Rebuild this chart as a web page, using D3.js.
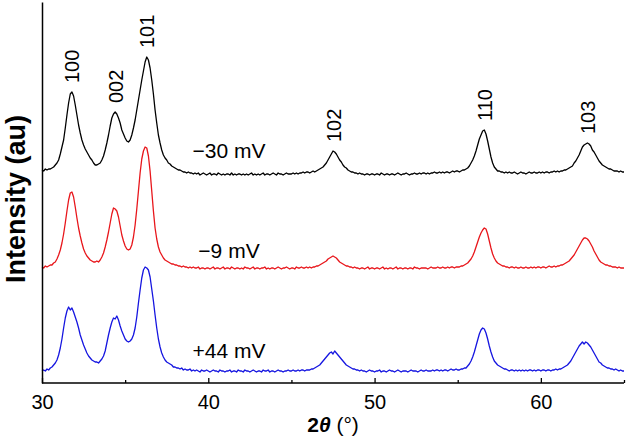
<!DOCTYPE html>
<html><head><meta charset="utf-8">
<script src="https://cdn.jsdelivr.net/npm/d3@7"></script>
<style>
html,body{margin:0;padding:0;background:#fff;}
svg{display:block;font-family:Arial,"Liberation Sans",Helvetica,sans-serif;}
</style></head>
<body>
<svg id="chart" width="626" height="441"></svg>
<script>
// 2θ grid: 30.0 to 65.0 in steps of 0.1°
const twoTheta = d3.range(0, 351).map(i => +(30 + i * 0.1).toFixed(1));

const seriesNames = ["−30 mV", "−9 mV", "+44 mV"];
const seriesColors = ["#000000", "#e8161b", "#1515e0"];
const seriesOffsets = [205, 112, 10];

const black = [
8,7,9,8,9,9,10,11,13,15,
18,24,31,38,50,63,75,84,86,82,
73,63,53,45,38,33,29,26,23,20,
18,15,13,13,14,15,18,22,28,35,
43,52,60,64,66,64,60,55,48,44,
40,37,36,38,43,50,58,68,78,88,
98,107,116,121,118,110,98,84,68,55,
43,35,28,23,20,18,15,14,12,11,
10,9,8,8,7,6,6,5,6,5,
5,4,5,4,5,3,4,5,4,3,
4,5,3,4,4,3,5,4,3,4,
3,4,4,3,5,3,4,3,4,4,
3,4,3,4,3,4,5,3,4,3,
4,3,4,5,3,4,4,3,4,5,
4,3,5,4,4,3,4,5,4,4,
4,5,4,5,4,5,5,6,5,6,
6,5,6,7,6,7,8,9,10,11,
13,15,18,21,24,27,26,24,21,18,
16,13,11,10,8,7,6,6,5,5,
4,5,4,4,3,4,4,3,4,4,
3,4,4,3,5,4,3,4,4,3,
4,4,3,4,5,4,3,4,4,5,
4,3,4,4,5,4,4,5,4,5,
5,4,5,4,5,5,6,5,5,6,
5,6,5,6,6,5,6,7,6,7,
7,6,7,8,8,9,10,12,15,18,
22,27,33,39,43,47,48,44,37,29,
21,15,11,9,7,7,6,6,5,6,
5,6,5,5,6,5,4,5,6,5,
5,4,5,6,5,5,6,5,5,6,
5,6,5,6,6,5,6,6,7,6,
7,6,7,7,8,8,9,10,11,12,
15,17,20,23,27,31,33,34,35,34,
32,28,26,23,20,17,15,13,12,11,
10,9,9,8,7,7,7,6,7,6,
6];

const red = [
4,3,5,4,5,6,6,8,9,12,
16,21,28,37,48,60,71,78,79,74,
64,53,43,35,28,22,18,15,13,11,
10,9,9,10,9,11,14,18,24,31,
39,48,57,63,62,60,54,45,36,30,
25,22,21,22,26,34,46,62,80,98,
112,120,124,123,115,100,80,60,43,32,
24,19,16,13,11,10,9,8,7,7,
6,6,5,5,4,5,4,4,3,4,
3,4,3,3,4,2,3,3,2,3,
3,2,3,4,2,3,3,2,3,4,
2,3,3,2,4,3,2,3,3,2,
3,2,4,3,3,2,3,4,2,3,
3,2,3,3,4,2,3,2,3,3,
2,3,4,3,2,3,3,4,3,2,
3,3,2,4,3,3,4,3,3,4,
3,4,3,4,4,5,5,6,7,8,
9,10,12,13,14,15,14,13,11,9,
8,7,6,5,5,4,4,3,4,3,
3,2,3,3,2,3,4,2,3,3,
2,3,3,2,3,4,2,3,2,3,
3,2,3,4,2,3,3,2,3,3,
2,3,3,2,4,3,3,2,3,3,
3,3,2,3,4,3,3,3,4,3,
3,4,3,3,4,3,4,4,3,4,
4,4,5,5,6,7,8,10,12,15,
19,24,29,34,38,41,43,42,37,30,
23,17,13,10,8,7,6,5,5,4,
4,3,4,4,3,4,3,3,4,3,
3,4,3,3,4,3,4,3,4,4,
3,4,4,3,4,5,4,4,5,4,
5,5,6,6,7,8,9,10,12,14,
16,19,22,25,28,31,33,33,32,30,
27,24,20,17,14,11,9,8,7,6,
6,5,5,4,4,4,3,4,3,3,
3];

const blue = [
2,3,2,4,3,5,6,8,10,13,
18,25,34,45,55,62,66,63,65,61,
56,51,45,38,33,28,24,20,17,15,
13,12,11,11,10,12,14,17,22,30,
38,45,51,55,54,57,53,47,42,38,
34,32,31,32,34,38,45,56,70,83,
95,103,106,105,103,96,84,72,58,45,
34,26,20,16,13,11,10,9,8,6,
6,5,5,4,5,3,4,3,3,4,
2,3,2,3,2,1,3,2,2,3,
2,1,2,3,2,2,1,3,2,2,
1,2,2,3,1,2,2,1,3,2,
2,1,3,2,2,1,2,3,2,1,
2,2,1,3,2,2,3,1,2,2,
1,2,3,2,2,1,2,2,3,2,
2,3,2,2,3,2,3,3,2,3,
3,3,4,4,5,6,7,8,10,12,
14,16,18,20,21,19,22,20,18,16,
14,12,10,8,7,6,5,4,4,3,
3,2,3,2,2,1,2,3,2,2,
1,2,2,3,1,2,2,1,2,3,
2,2,1,2,3,2,1,2,2,2,
1,2,3,2,2,2,1,2,3,2,
2,3,2,2,2,3,2,3,3,2,
3,2,3,3,2,3,4,3,3,4,
3,3,4,4,5,5,7,9,12,16,
21,27,33,39,43,45,44,40,34,27,
21,16,12,10,8,7,6,5,4,4,
3,2,3,3,2,3,2,3,2,3,
2,3,2,3,3,2,3,2,3,3,
2,3,3,2,3,3,2,3,3,4,
3,4,4,5,6,7,8,10,12,15,
18,21,24,27,29,31,29,31,30,28,
26,23,20,17,14,11,10,8,7,6,
5,5,4,4,3,4,3,2,3,2,
2];

const peakLabels = ["100", "002", "101", "102", "110", "103"];
const peakPositions = [31.75, 34.4, 36.3, 47.5, 56.6, 62.8];

const xTicks = [30, 40, 50, 60];
const xMinorTicks = [35, 45, 55, 65];

// ---- drawing ----
const svg = d3.select("#chart");
const M = { left: 42, right: 624, top: 2, bottom: 383 };
const x = d3.scaleLinear().domain([30, 65]).range([M.left, M.right]);
const y = d3.scaleLinear().domain([0, 381]).range([M.bottom, M.top]);

const seriesValues = [black, red, blue];
const line = d3.line().x(d => x(d[0])).y(d => y(d[1]));

seriesValues.forEach((vals, s) => {
  const pts = twoTheta.map((t, i) => [t, vals[i] + seriesOffsets[s]]);
  svg.append("path").attr("d", line(pts))
    .attr("fill", "none").attr("stroke", seriesColors[s])
    .attr("stroke-width", 1.3).attr("stroke-linejoin", "round");
});

// axes
const xAxis = d3.axisBottom(x).tickValues(xTicks).tickSize(-5).tickFormat(d3.format("d")).tickPadding(12);
const gx = svg.append("g").attr("transform", `translate(0,${M.bottom})`).call(xAxis);
gx.select(".domain").attr("d", `M${M.left},0H${M.right}`).attr("stroke-width", 1.5);
gx.selectAll(".tick line").attr("stroke-width", 1.3);
gx.selectAll(".tick text").attr("font-size", 20).attr("font-family", "Arial, 'Liberation Sans', sans-serif").attr("fill", "#000");
const gxm = svg.append("g").attr("transform", `translate(0,${M.bottom})`)
  .call(d3.axisBottom(x).tickValues(xMinorTicks).tickSize(-3).tickFormat(""));
gxm.select(".domain").remove();
gxm.selectAll(".tick line").attr("stroke-width", 1.3);

const yAxis = d3.axisLeft(y).tickValues([]).tickSizeOuter(0);
const gy = svg.append("g").attr("transform", `translate(${M.left},0)`).call(yAxis);
gy.select(".domain").attr("stroke-width", 1.5);

// peak labels
peakLabels.forEach((lab, i) => {
  const p = peakPositions[i];
  let m = -Infinity;
  twoTheta.forEach((t, j) => { if (Math.abs(t - p) <= 0.3) m = Math.max(m, black[j]); });
  const py = y(m + seriesOffsets[0]) - 9;
  svg.append("text")
    .attr("transform", `translate(${x(p) + 7.5},${py}) rotate(-90)`)
    .attr("font-size", 20).attr("fill", "#000").text(lab);
});

// series labels
const labelLift = [17, 10, 12];
seriesNames.forEach((n, s) => {
  svg.append("text").attr("x", 229).attr("y", y(seriesOffsets[s] + 3) - labelLift[s])
    .attr("text-anchor", "middle").attr("font-size", 21).attr("fill", "#000").text(n);
});

// axis titles
svg.append("text").attr("transform", `translate(25,199) rotate(-90)`)
  .attr("text-anchor", "middle").attr("font-size", 27).attr("font-weight", "bold").text("Intensity (au)");

const xt = svg.append("text").attr("x", 333).attr("y", 432).attr("text-anchor", "middle").attr("font-size", 21);
xt.append("tspan").attr("font-weight", "bold").text("2");
xt.append("tspan").attr("font-weight", "bold").attr("font-style", "italic").text("θ");
xt.append("tspan").text(" (°)");
</script>
</body></html>
